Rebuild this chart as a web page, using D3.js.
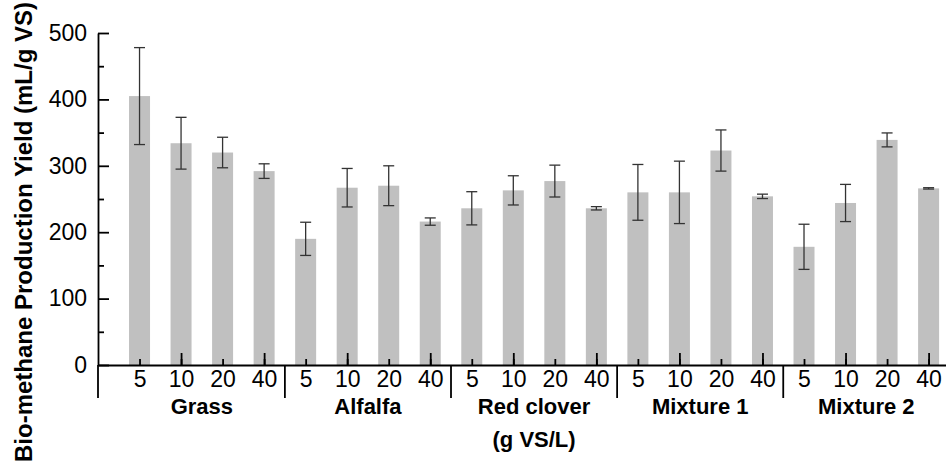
<!DOCTYPE html>
<html lang="en">
<head>
    <meta charset="UTF-8">
    <title>Bio-methane Production Yield</title>
    <script src="https://d3js.org/d3.v7.min.js"></script>
    <style>
        body {
            margin: 0;
            background-color: white;
            font-family: Arial, "Liberation Sans", sans-serif;
        }
        .axis path, .axis line {
            stroke: #000;
            stroke-width: 1.8;
        }
        .axis text {
            font-size: 23px;
            fill: #000;
        }
        .group-label {
            font-size: 22px;
            font-weight: bold;
        }
    </style>
</head>
<body>
    <svg id="chart"></svg>

    <script>
        // Data
        const groups = ["Grass", "Alfalfa", "Red clover", "Mixture 1", "Mixture 2"];
        const loadings = ["5", "10", "20", "40"];
        const yields = [405, 334, 320, 292,
                        190, 267, 270, 216,
                        236, 263, 277, 236,
                        260, 260, 323, 254,
                        178, 244, 339, 266];
        const errors = [73, 39, 23, 11,
                        25, 29, 30, 5.5,
                        25, 22, 24, 2.5,
                        42, 47, 31, 3.3,
                        34, 28, 10.5, 1];
        const yTicks = [0, 100, 200, 300, 400, 500];

        const width = 946;
        const height = 464;

        const svg = d3.select("#chart")
            .attr("width", width)
            .attr("height", height);

        // bar i sits at position i + 1, the axis starts at 0
        const nBars = yields.length;
        const x = d3.scaleLinear()
            .domain([0, nBars + 1])
            .range([98, 98 + 41.53 * (nBars + 1)]);

        const y = d3.scaleLinear()
            .domain([0, 500])
            .range([365, 33]);

        const barWidth = 21;
        const capWidth = 11;

        const bars = yields.map((v, i) => ({
            pos: i + 1,
            value: v,
            err: errors[i],
            label: loadings[i % loadings.length]
        }));

        // bars
        svg.selectAll(".bar")
            .data(bars)
            .enter()
            .append("rect")
            .attr("class", "bar")
            .attr("x", d => x(d.pos) - barWidth / 2)
            .attr("y", d => y(d.value))
            .attr("width", barWidth)
            .attr("height", d => y(0) - y(d.value))
            .attr("fill", "#c0c0c0");

        // error bars
        const err = svg.append("g")
            .attr("stroke", "#333")
            .attr("stroke-width", 1.3);

        bars.forEach(d => {
            const cx = x(d.pos);
            err.append("line")
                .attr("x1", cx).attr("x2", cx)
                .attr("y1", y(d.value + d.err)).attr("y2", y(d.value - d.err));
            [d.value + d.err, d.value - d.err].forEach(v => {
                err.append("line")
                    .attr("x1", cx - capWidth / 2).attr("x2", cx + capWidth / 2)
                    .attr("y1", y(v)).attr("y2", y(v));
            });
        });

        // y axis, ticks pointing inward
        svg.append("g")
            .attr("class", "axis")
            .attr("transform", `translate(${x(0)},0)`)
            .call(d3.axisLeft(y)
                .tickValues(yTicks)
                .tickSizeInner(-11)
                .tickSizeOuter(0)
                .tickPadding(11));

        svg.append("g")
            .attr("class", "axis")
            .attr("transform", `translate(${x(0)},0)`)
            .call(d3.axisLeft(y)
                .tickValues(yTicks.slice(0, -1).map(v => v + 50))
                .tickSizeInner(-6)
                .tickSizeOuter(0)
                .tickFormat(""))
            .select(".domain").remove();

        // x axis: minor ticks with labels, major ticks on every second bar
        svg.append("g")
            .attr("class", "axis")
            .attr("transform", `translate(0,${y(0)})`)
            .call(d3.axisBottom(x)
                .tickValues(bars.map(d => d.pos))
                .tickFormat((d, i) => bars[i].label)
                .tickSizeInner(-6)
                .tickSizeOuter(0)
                .tickPadding(6));

        svg.append("g")
            .attr("class", "axis")
            .attr("transform", `translate(0,${y(0)})`)
            .call(d3.axisBottom(x)
                .tickValues(bars.filter(d => d.pos % 2 === 0).map(d => d.pos))
                .tickFormat("")
                .tickSizeInner(-12)
                .tickSizeOuter(0))
            .select(".domain").remove();

        // group separators below the axis
        const sepPos = [0].concat(groups.map((g, i) => (i + 1) * loadings.length + 0.5));
        svg.append("g")
            .attr("class", "axis")
            .selectAll("line")
            .data(sepPos)
            .enter()
            .append("line")
            .attr("x1", d => x(d)).attr("x2", d => x(d))
            .attr("y1", y(0)).attr("y2", y(0) + 33);

        // group labels
        svg.selectAll(".group-label")
            .data(groups)
            .enter()
            .append("text")
            .attr("class", "group-label")
            .attr("x", (d, i) => x(i * loadings.length + 2.5))
            .attr("y", 414)
            .attr("text-anchor", "middle")
            .text(d => d);

        svg.append("text")
            .attr("class", "group-label")
            .attr("x", x(2 * loadings.length + 2.5))
            .attr("y", 447)
            .attr("text-anchor", "middle")
            .text("(g VS/L)");

        // y axis title
        svg.append("text")
            .attr("transform", "translate(32,232) rotate(-90)")
            .attr("text-anchor", "middle")
            .style("font-size", "24px")
            .style("font-weight", "bold")
            .text("Bio-methane Production Yield (mL/g VS)");
    </script>
</body>
</html>
